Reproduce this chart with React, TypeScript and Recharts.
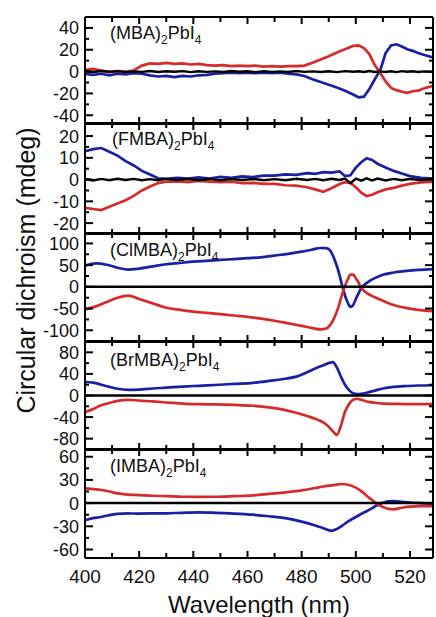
import { Line, LineChart, ReferenceLine, XAxis, YAxis } from "recharts";

const RED = "#d62b2b";
const BLUE = "#1b1fa3";
const FONT = "Arial, 'Liberation Sans', sans-serif";
const WIDTH = 436;

const X_DOMAIN: [number, number] = [400, 528.5];
const X_TICKS = [400, 410, 420, 430, 440, 450, 460, 470, 480, 490, 500, 510, 520];
const X_LABELS = [400, 420, 440, 460, 480, 500, 520];

// (MBA)2PbI4
const MBA_WL = [400, 403, 406, 409, 412, 415, 418, 421, 424, 427, 430, 433, 436, 439, 442, 445, 448, 451, 454, 457, 460, 463, 466, 469, 472, 475, 478, 481, 484, 487, 490, 493, 496, 499, 501, 503, 505, 507, 509, 511, 513, 515, 517, 519, 521, 523, 525, 528.5];
const MBA_RED = [1.5, 2.5, 1, -0.5, 0.5, 0, 1, 5.5, 7.5, 7, 8, 7, 7.5, 6.5, 7, 6, 5.5, 6, 5, 5.5, 5, 5.5, 4.5, 5, 4.5, 5, 5, 5.5, 8, 11, 14, 17.5, 20.5, 23.5, 24, 21.5, 16, 6, -1, -9, -15, -17, -18.5, -19.5, -18, -17.5, -15.5, -13];
const MBA_BLUE = [-2, -3, -2, -3.5, -2, -2.5, -1.5, -2, -3.5, -4.5, -4, -5, -4, -4.5, -3.5, -3, -2, -1.5, -1, -1.5, -1, -1.5, -1, -1.5, -1, -2, -2.5, -4, -7, -9.5, -12, -14.5, -17.5, -21, -23.5, -23, -16, -7, 1, 17, 24, 25, 23, 20.5, 19, 17, 15.5, 13];
const MBA_ZERO = [0.3, -0.4, 0.5, -0.2, 0.4, -0.5, 0.2, -0.3, 0.5, -0.4, 0.3, -0.2, 0.4, -0.5, 0.3, -0.3, 0.2, -0.4, 0.5, -0.2, 0.3, -0.5, 0.4, -0.3, 0.2, -0.4, 0.5, -0.3, 0.2, -0.4, 0.3, -0.5, 0.4, -0.2, 0.3, -0.4, 0.5, -0.3, 0.2, -0.4, 0.3, -0.5, 0.4, -0.2, 0.3, -0.4, 0.2, -0.3];

// (FMBA)2PbI4
const FMBA_WL = [400, 403, 406, 409, 412, 415, 418, 421, 424, 427, 430, 434, 438, 442, 446, 450, 454, 458, 462, 466, 470, 474, 478, 482, 485, 488, 491, 494, 496, 498, 500, 502, 504, 506, 508, 511, 514, 517, 520, 524, 528.5];
const FMBA_BLUE = [13, 14, 14.5, 12.8, 11, 8.5, 6.5, 4, 2.3, 0.6, 0.3, 0.8, 0.5, 1, 0.5, 1.2, 0.8, 1.5, 1.2, 1.8, 1.8, 2.4, 2.2, 3, 2.6, 3.4, 3.2, 3.8, 1.6, 2, 5.5, 8, 9.8, 9, 7.3, 5.6, 4, 2.8, 1.6, 0.8, 0.5];
const FMBA_RED = [-13, -13.5, -14, -12.5, -11, -9.5, -7.5, -5, -3.2, -1.6, -1, -0.8, -1.2, -0.6, -1, -1.2, -1, -1.6, -1.5, -2, -2, -2.6, -2.8, -3.5, -4.5, -5.6, -4, -2, -1.2, -1.5, -3.5, -6, -7.6, -7, -5.8, -4.5, -3.8, -2.8, -2, -1.3, -1];
const FMBA_ZERO = [0.3, -0.4, 0.3, -0.3, 0.4, -0.2, 0.3, -0.3, 0.2, -0.3, 0.3, -0.2, 0.3, -0.3, 0.2, -0.3, 0.3, -0.2, 0.3, -0.3, 0.2, -0.3, 0.4, -0.2, 0.3, -0.3, 0.4, -0.2, 0.5, -1.6, 0.4, -0.5, 0.6, -0.4, 0.5, -0.4, 0.3, -0.3, 0.3, -0.2, 0.2];

// (ClMBA)2PbI4
const CLMBA_WL = [400, 404, 408, 412, 416, 420, 425, 430, 435, 440, 445, 450, 455, 460, 465, 470, 475, 480, 484, 487, 489, 490.5, 492, 493.5, 495, 496, 497, 498, 499, 500, 501, 502, 503, 505, 507, 510, 514, 518, 523, 528.5];
const CLMBA_BLUE = [49, 54, 51, 44, 39.5, 42, 47, 52, 55, 58, 60, 62, 64, 66, 68, 72, 76, 81, 86, 89.5, 89, 84, 65, 38, 2, -20, -36, -46, -42, -28, -15, -3, 4, 13, 20, 28, 33, 36, 39, 41];
const CLMBA_RED = [-52, -45, -35, -25, -20, -28, -38, -48, -53, -57, -60, -63, -66, -69, -73, -78, -84, -90, -95, -98, -96, -88, -72, -48, -16, 2, 17, 28, 28, 20, 10, -2, -9, -18, -24, -32, -42, -48, -53, -56];

// (BrMBA)2PbI4
const BRMBA_WL = [400, 403, 406, 409, 412, 416, 420, 425, 430, 436, 442, 448, 455, 462, 468, 474, 478, 482, 485, 488, 490, 491.5, 493, 494.5, 496, 497.5, 499, 500.5, 502, 504, 507, 510, 514, 518, 523, 528.5];
const BRMBA_BLUE = [25, 24, 20, 16, 12.5, 10.5, 11, 13, 14.5, 16.5, 18, 19.5, 21.5, 23.5, 27, 31, 35, 43, 50, 56, 60, 62, 52, 35, 20, 10, 4, 2.5, 3, 5, 9, 13, 16, 17.5, 18.5, 19];
const BRMBA_RED = [-31, -25, -18, -14, -10, -8, -9.5, -11, -13, -15, -16, -16.5, -17.5, -19, -22, -27, -32, -38, -43, -50, -58, -66, -73, -56, -30, -16, -8, -6, -8, -11, -13.5, -15, -15.5, -16, -16, -16];

// (IMBA)2PbI4
const IMBA_WL = [400, 403, 406, 409, 412, 416, 420, 425, 430, 436, 442, 448, 455, 462, 468, 474, 480, 485, 488, 491, 493, 495, 497.5, 500, 502, 504, 506, 508, 510, 512, 514, 517, 520, 524, 528.5];
const IMBA_RED = [19, 18, 17, 15, 12.5, 11, 10.4, 9.5, 9, 8.2, 8, 8.2, 9, 10, 12, 14, 16.5, 19.5, 21.5, 23, 24, 24.7, 23.5, 20, 15.5, 9.5, 4, -1.5, -5, -7.5, -8, -6, -4.5, -4, -4];
const IMBA_BLUE = [-22, -19.5, -18, -15.5, -14, -13.4, -13.5, -13.4, -13.2, -12.5, -12, -12.5, -13.5, -15, -17, -19.5, -24, -29, -32.5, -36, -33.5, -29, -23, -18, -14, -10.5, -6.5, -2.5, 0.5, 2.2, 2.5, 1.8, 0.8, 0, -1];

interface PanelSpec {
  name: string;
  wl: number[];
  red: number[];
  blue: number[];
  zero?: number[];
  domain: [number, number];
  ticks: number[];
  labels: number[];
  top: number;
  bottom: number;
  labelTop: number;
  labelLeft: number;
}

const PANELS: PanelSpec[] = [
  { name: "MBA", wl: MBA_WL, red: MBA_RED, blue: MBA_BLUE, zero: MBA_ZERO, domain: [-48, 50], ticks: [-40, -30, -20, -10, 0, 10, 20, 30, 40], labels: [-40, -20, 0, 20, 40], top: 17, bottom: 123, labelTop: 26, labelLeft: 110 },
  { name: "FMBA", wl: FMBA_WL, red: FMBA_RED, blue: FMBA_BLUE, zero: FMBA_ZERO, domain: [-25, 26], ticks: [-20, -15, -10, -5, 0, 5, 10, 15, 20], labels: [-20, -10, 0, 10, 20], top: 123, bottom: 233, labelTop: 132, labelLeft: 112 },
  { name: "ClMBA", wl: CLMBA_WL, red: CLMBA_RED, blue: CLMBA_BLUE, domain: [-127, 124], ticks: [-100, -75, -50, -25, 0, 25, 50, 75, 100], labels: [-100, -50, 0, 50, 100], top: 233, bottom: 341, labelTop: 243, labelLeft: 110 },
  { name: "BrMBA", wl: BRMBA_WL, red: BRMBA_RED, blue: BRMBA_BLUE, domain: [-101, 101], ticks: [-80, -60, -40, -20, 0, 20, 40, 60, 80], labels: [-80, -40, 0, 40, 80], top: 341, bottom: 449, labelTop: 353, labelLeft: 110 },
  { name: "IMBA", wl: IMBA_WL, red: IMBA_RED, blue: IMBA_BLUE, domain: [-71, 70], ticks: [-60, -45, -30, -15, 0, 15, 30, 45, 60], labels: [-60, -30, 0, 30, 60], top: 449, bottom: 558, labelTop: 459, labelLeft: 110 },
];

const AXIS_LINE = { stroke: "#000", strokeWidth: 2 };

// recharts hands the tick its label anchor; with tickSize/tickMargin 0 that is the axis line itself
function LeftTick({ x, y, payload, labels }: any) {
  const major = labels.includes(payload.value);
  return (
    <g>
      <line x1={x} x2={x + (major ? 8 : 4)} y1={y} y2={y} stroke="#000" strokeWidth={2} />
      {major && (
        <text x={x - 6} y={y} dy="0.36em" textAnchor="end" fontSize={18} fontFamily={FONT} fill="#111">
          {payload.value}
        </text>
      )}
    </g>
  );
}

function RightTick({ x, y, payload, labels }: any) {
  const major = labels.includes(payload.value);
  return <line x1={x} x2={x - (major ? 8 : 4)} y1={y} y2={y} stroke="#000" strokeWidth={2} />;
}

function BottomTick({ x, y, payload, showLabel }: any) {
  const major = X_LABELS.includes(payload.value);
  return (
    <g>
      <line x1={x} x2={x} y1={y} y2={y - (major ? 7 : 5)} stroke="#000" strokeWidth={2} />
      {showLabel && major && (
        <text x={x} y={y + 25} textAnchor="middle" fontSize={19} fontFamily={FONT} fill="#111">
          {payload.value}
        </text>
      )}
    </g>
  );
}

function TopTick({ x, y, payload }: any) {
  const major = X_LABELS.includes(payload.value);
  return <line x1={x} x2={x} y1={y} y2={y + (major ? 7 : 5)} stroke="#000" strokeWidth={2} />;
}

function Panel({ p, isLast }: { p: PanelSpec; isLast: boolean }) {
  const data = p.wl.map((wl, i) => ({ wl, red: p.red[i], blue: p.blue[i], zero: p.zero ? p.zero[i] : 0 }));
  const bottomH = isLast ? 40 : 1;
  const h = p.bottom - p.top;
  const curve = p.zero ? "linear" : "monotone";
  return (
    <div style={{ position: "absolute", left: 0, top: p.top - 2 }}>
      <LineChart
        width={WIDTH}
        height={h + (isLast ? 2 : 4) + bottomH}
        data={data}
        margin={{ top: 1, right: 0, bottom: isLast ? 0 : 1, left: 0 }}
      >
        <XAxis
          xAxisId="b"
          dataKey="wl"
          type="number"
          domain={X_DOMAIN}
          allowDataOverflow
          ticks={X_TICKS}
          interval={0}
          height={bottomH}
          tickSize={0}
          tickMargin={0}
          tickLine={false}
          axisLine={AXIS_LINE}
          tick={(t: any) => <BottomTick {...t} showLabel={isLast} />}
        />
        <XAxis
          xAxisId="t"
          dataKey="wl"
          orientation="top"
          type="number"
          domain={X_DOMAIN}
          allowDataOverflow
          ticks={X_TICKS}
          interval={0}
          height={1}
          tickSize={0}
          tickMargin={0}
          tickLine={false}
          axisLine={AXIS_LINE}
          tick={(t: any) => <TopTick {...t} />}
        />
        <YAxis
          yAxisId="l"
          type="number"
          domain={p.domain}
          allowDataOverflow
          ticks={p.ticks}
          interval={0}
          width={85}
          tickSize={0}
          tickMargin={0}
          tickLine={false}
          axisLine={AXIS_LINE}
          tick={(t: any) => <LeftTick {...t} labels={p.labels} />}
        />
        <YAxis
          yAxisId="r"
          orientation="right"
          type="number"
          domain={p.domain}
          allowDataOverflow
          ticks={p.ticks}
          interval={0}
          width={3}
          tickSize={0}
          tickMargin={0}
          tickLine={false}
          axisLine={AXIS_LINE}
          tick={(t: any) => <RightTick {...t} labels={p.labels} />}
        />
        {/* invisible series so the top / right frame axes get their ticks */}
        <Line xAxisId="t" yAxisId="r" type="linear" dataKey="zero" stroke="none" strokeWidth={0} dot={false} isAnimationActive={false} />
        <Line xAxisId="b" yAxisId="l" type={curve} dataKey="blue" stroke={BLUE} strokeWidth={2.7} dot={false} isAnimationActive={false} />
        <Line xAxisId="b" yAxisId="l" type={curve} dataKey="red" stroke={RED} strokeWidth={2.7} dot={false} isAnimationActive={false} />
        {p.zero ? (
          <Line xAxisId="b" yAxisId="l" type="linear" dataKey="zero" stroke="#000" strokeWidth={2.4} dot={false} isAnimationActive={false} />
        ) : (
          <ReferenceLine xAxisId="b" yAxisId="l" y={0} stroke="#000" strokeWidth={2.5} />
        )}
      </LineChart>
      <div
        style={{
          position: "absolute",
          left: p.labelLeft,
          top: p.labelTop - p.top + 2 - 2.3,
          fontFamily: FONT,
          fontSize: 18,
          lineHeight: "18px",
          color: "#111",
          whiteSpace: "nowrap",
        }}
      >
        ({p.name})
        <span style={{ fontSize: 12, position: "relative", top: 5 }}>2</span>
        PbI
        <span style={{ fontSize: 12, position: "relative", top: 5 }}>4</span>
      </div>
    </div>
  );
}

export default function App() {
  return (
    <div style={{ position: "absolute", left: 0, top: 0, width: WIDTH, height: 617, background: "#fff" }}>
      {PANELS.map((p, i) => (
        <Panel key={p.name} p={p} isLast={i === PANELS.length - 1} />
      ))}
      <div
        style={{
          position: "absolute",
          left: -174,
          top: 258,
          width: 400,
          height: 25,
          lineHeight: "25px",
          fontSize: 25,
          fontFamily: FONT,
          color: "#111",
          textAlign: "center",
          transform: "rotate(-90deg)",
          whiteSpace: "nowrap",
        }}
      >
        Circular dichroism (mdeg)
      </div>
      <div
        style={{
          position: "absolute",
          left: 85,
          top: 593,
          width: 348,
          lineHeight: "24px",
          fontSize: 24,
          fontFamily: FONT,
          color: "#111",
          textAlign: "center",
          whiteSpace: "nowrap",
        }}
      >
        Wavelength (nm)
      </div>
    </div>
  );
}
